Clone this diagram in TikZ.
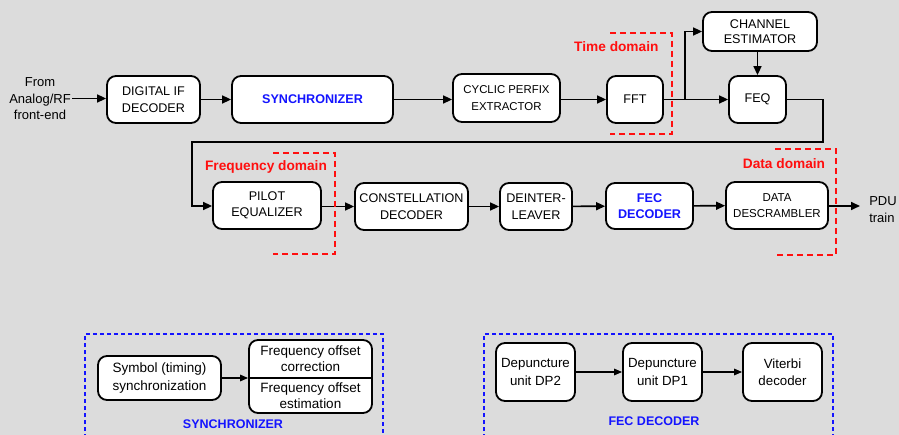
\documentclass[tikz,border=0pt]{standalone}
\usepackage{fontspec}
\setmainfont{Liberation Sans}
\usetikzlibrary{arrows.meta}
\definecolor{bg}{RGB}{220,220,220}
\definecolor{lblblue}{RGB}{20,20,255}
\definecolor{lblred}{RGB}{255,15,15}
\begin{document}
\begin{tikzpicture}[x=1pt,y=-1pt,
  blk/.style={draw=black, fill=white, rounded corners=9pt, line width=1.8pt,
    inner sep=0pt, align=center, font=\fontsize{12.6}{16.5}\selectfont},
  arr/.style={line width=1.6pt, -{Triangle[length=9pt,width=8pt]}},
  dom/.style={draw=lblred, line width=2pt, dash pattern=on 6pt off 4pt},
  grp/.style={draw=lblblue, line width=1.4pt, dash pattern=on 4pt off 3pt},
  redlbl/.style={text=lblred, font=\bfseries\fontsize{13.7}{15}\selectfont},
  bluelbl/.style={text=lblblue, font=\bfseries\fontsize{12.5}{16.5}\selectfont},
  txt/.style={align=center, inner sep=0pt, font=\fontsize{13}{16.5}\selectfont},
  subarr/.style={line width=1.4pt, -{Triangle[length=8pt,width=6.5pt]}}
]
% canvas
\fill[bg] (0,0) rectangle (899,435);
\useasboundingbox (0,0) rectangle (899,435);

% ---- main chain, first row
\node[txt] (src) at (40,99) {From\\Analog/RF\\front-end};
\coordinate (srcend) at (72,98.5);
\node[blk, minimum width=93pt, minimum height=47pt] (dif) at (153.5,99.5) {DIGITAL IF\\DECODER};
\node[blk, minimum width=161pt, minimum height=47pt, text=lblblue,
      font=\bfseries\fontsize{12.6}{16.5}\selectfont] (sync) at (312.5,99.5) {SYNCHRONIZER};
\node[blk, minimum width=107pt, minimum height=48pt,
      font=\fontsize{11.4}{16.5}\selectfont] (cpe) at (506.5,98) {CYCLIC PERFIX\\EXTRACTOR};
\node[blk, minimum width=56pt, minimum height=47pt] (fft) at (635,99.5) {FFT};
\node[blk, minimum width=57pt, minimum height=47pt] (feq) at (757.5,99.5) {FEQ};
\node[blk, minimum width=114pt, minimum height=39pt,
      font=\fontsize{12.6}{15.5}\selectfont] (chan) at (760,31.5) {CHANNEL\\ESTIMATOR};

% ---- main chain, second row
\node[blk, minimum width=108pt, minimum height=47pt] (pilot) at (267,205.5) {PILOT\\EQUALIZER};
\node[blk, minimum width=113pt, minimum height=47pt] (const) at (411.5,206.5) {CONSTELLATION\\DECODER};
\node[blk, minimum width=72pt, minimum height=47pt] (deint) at (536,206.5) {DEINTER-\\LEAVER};
\node[blk, minimum width=87pt, minimum height=46pt, text=lblblue,
      font=\bfseries\fontsize{12.6}{16.5}\selectfont] (fec) at (649.5,206) {FEC\\DECODER};
\node[blk, minimum width=102pt, minimum height=47pt,
      font=\fontsize{11.5}{16.5}\selectfont] (desc) at (777,205.5) {DATA\\DESCRAMBLER};
\node[txt, align=left] (pdu) at (883,209.5) {PDU\\train};
\coordinate (pduin) at (860,206);

% ---- connectors
\draw[arr] (srcend) -- (dif.west |- srcend);
\draw[arr] (dif) -- (sync);
\draw[arr] (sync.east) -- (cpe.west |- sync.east);
\draw[arr] (cpe.east |- fft.west) -- (fft.west);
\draw[arr] (fft) -- (feq);
\coordinate (tap) at (685,99.5);
\draw[arr] (tap) |- (chan.west);
\draw[arr] (feq.north |- chan.south) -- (feq.north);
\coordinate (down) at (823,142);
\coordinate (back) at (192,206);
\draw[arr] (feq.east) -| (down) -| (back) -- (pilot.west |- back);
\draw[arr] (pilot.east |- const.west) -- (const.west);
\draw[arr] (const) -- (deint);
\draw[arr] (deint) -- (fec);
\draw[arr] (fec) -- (desc);
\draw[arr] (desc.east |- pduin) -- (pduin);

% ---- processing domains
\draw[dom] (610,33) -- (672,33) -- (672,134) -- (610,134);
\node[redlbl, anchor=east] (tdl) at (662,47) {Time domain};
\draw[dom] (273,153) -- (335,153) -- (335,254) -- (273,254);
\node[redlbl] (fdl) at (266,167) {Frequency domain};
\draw[dom] (775,149) -- (836,149) -- (836,255) -- (775,255);
\node[redlbl] (ddl) at (784,164) {Data domain};

% ---- synchronizer detail
\draw[grp] (85,445) -- (85,334) -- (383,334) -- (383,445);
\node[blk, minimum width=123pt, minimum height=44pt,
      font=\fontsize{13.5}{17.5}\selectfont] (sym) at (159.5,378) {Symbol (timing)\\synchronization};
\node[blk, minimum width=123pt, minimum height=73pt] (fo) at (310.5,376.5) {};
\draw[line width=1.1pt] (fo.west |- 0,378) -- (fo.east |- 0,378);
\node[txt, font=\fontsize{13.5}{16.5}\selectfont] (foc) at (310.5,358.5) {Frequency offset\\correction};
\node[txt, font=\fontsize{13.5}{16.5}\selectfont] (foe) at (310.5,395.5) {Frequency offset\\estimation};
\draw[subarr] (sym.east) -- (fo.west |- sym.east);
\node[bluelbl] (syncl) at (233,424) {SYNCHRONIZER};

% ---- FEC decoder detail
\draw[grp] (484,445) -- (484,334) -- (833,334) -- (833,445);
\node[blk, minimum width=79pt, minimum height=58pt,
      font=\fontsize{13.3}{17.5}\selectfont] (dp2) at (535.5,372) {Depuncture\\unit DP2};
\node[blk, minimum width=79pt, minimum height=58pt,
      font=\fontsize{13.3}{17.5}\selectfont] (dp1) at (662.5,372) {Depuncture\\unit DP1};
\node[blk, minimum width=79pt, minimum height=58pt,
      font=\fontsize{13.3}{17.5}\selectfont] (vit) at (782.5,372) {Viterbi\\decoder};
\draw[subarr] (dp2) -- (dp1);
\draw[subarr] (dp1) -- (vit);
\node[bluelbl] (fecl) at (654,421) {FEC DECODER};
\end{tikzpicture}
\end{document}
